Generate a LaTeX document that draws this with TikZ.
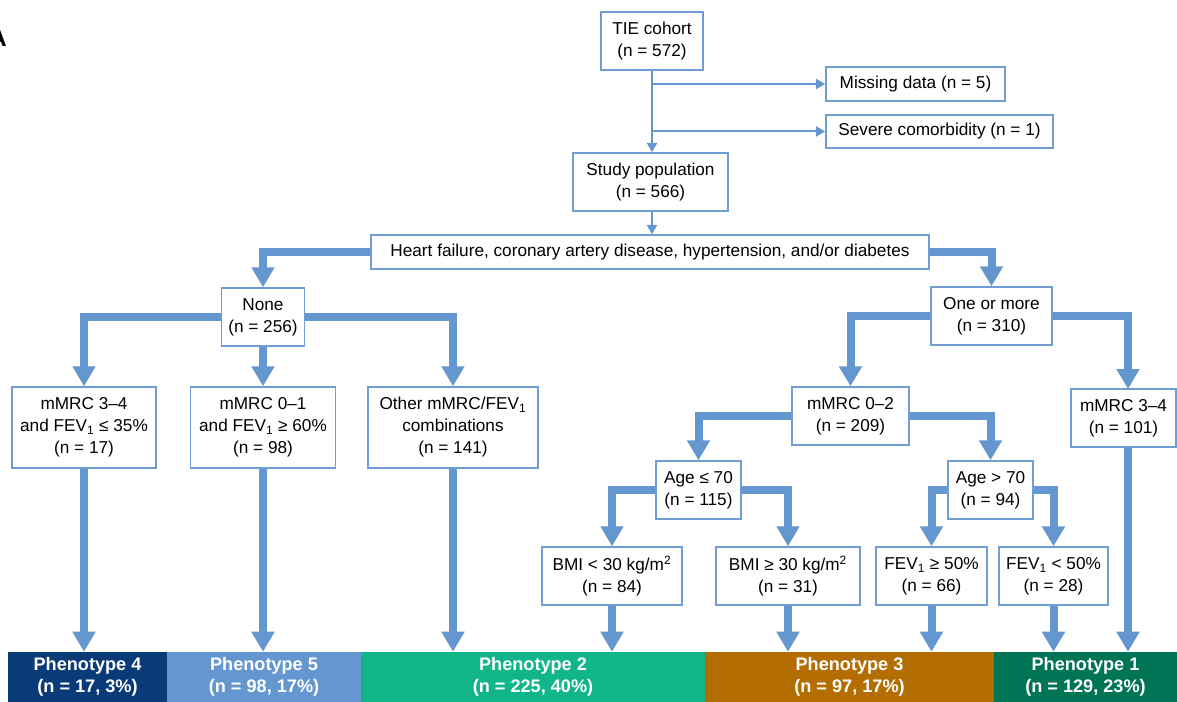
\documentclass[tikz,border=0pt]{standalone}
\usepackage{fontspec}
\setmainfont{Liberation Sans}
\usetikzlibrary{arrows.meta,backgrounds}
\definecolor{arr}{RGB}{100,150,208}
\definecolor{bord}{RGB}{112,157,212}
\definecolor{pfour}{RGB}{10,58,120}
\definecolor{pfive}{RGB}{100,150,208}
\definecolor{ptwo}{RGB}{16,182,137}
\definecolor{pthree}{RGB}{179,109,0}
\definecolor{pone}{RGB}{0,117,85}
\tikzset{
  box/.style={draw=bord, line width=1.1pt, fill=white, align=center, inner sep=0pt,
    font=\fontsize{12.9}{16.5}\selectfont, text=black},
  bar/.style={fill=#1, draw=none, align=center, inner sep=0pt, minimum height=37.5pt,
    font=\fontsize{13.6}{16.8}\selectfont\bfseries, text=white},
  thk/.style={draw=arr, line width=6pt, line join=miter, -{Triangle[width=16.5pt,length=15pt]}},
  thn/.style={draw=arr, line width=1.5pt, -{Triangle[width=7.5pt,length=7pt]}}
}
\begin{document}
\begin{tikzpicture}[x=0.75pt,y=-0.75pt]
\useasboundingbox (0,0) rectangle (1177,702);
\node[anchor=base east, inner sep=0pt, font=\fontsize{18}{18}\selectfont\bfseries] (lblA) at (7,47) {A};
% boxes
\node[box, minimum width=76.5pt, minimum height=43.5pt] (tie) at (652,41) {TIE cohort\\(n = 572)};
\node[box, minimum width=134.25pt, minimum height=25.5pt] (miss) at (915.5,84) {Missing data (n = 5)};
\node[box, minimum width=170.25pt, minimum height=24.75pt] (sev) at (939.5,131.5) {Severe comorbidity (n = 1)};
\node[box, minimum width=116.25pt, minimum height=43.5pt] (study) at (650.5,182) {Study population\\(n = 566)};
\node[box, minimum width=418.5pt, minimum height=25.5pt] (hf) at (650,252) {Heart failure, coronary artery disease, hypertension, and/or diabetes};
\node[box, minimum width=62.25pt, minimum height=43.5pt] (none) at (263,317) {None\\(n = 256)};
\node[box, minimum width=90.75pt, minimum height=43.5pt] (one) at (991.5,316) {One or more\\(n = 310)};
\node[box, minimum width=108pt, minimum height=60.75pt] (m34a) at (84,427.5) {mMRC 3–4\\and FEV\textsubscript{1} ≤ 35\%\\(n = 17)};
\node[box, minimum width=108.75pt, minimum height=60.75pt] (m01) at (263,427.5) {mMRC 0–1\\and FEV\textsubscript{1} ≥ 60\%\\(n = 98)};
\node[box, minimum width=127.5pt, minimum height=60.75pt] (other) at (453,427.5) {Other mMRC/FEV\textsubscript{1}\\combinations\\(n = 141)};
\node[box, minimum width=87.75pt, minimum height=43.5pt] (m02) at (850.5,416) {mMRC 0–2\\(n = 209)};
\node[box, minimum width=78.75pt, minimum height=43.5pt] (m34b) at (1123.5,418) {mMRC 3–4\\(n = 101)};
\node[box, minimum width=63.75pt, minimum height=43.5pt] (age1) at (698.5,490) {Age ≤ 70\\(n = 115)};
\node[box, minimum width=63.75pt, minimum height=43.5pt] (age2) at (990.5,490) {Age > 70\\(n = 94)};
\node[box, minimum width=105pt, minimum height=43.5pt] (bmi1) at (612,576) {BMI < 30 kg/m\textsuperscript{2}\\(n = 84)};
\node[box, minimum width=108pt, minimum height=43.5pt] (bmi2) at (788,576) {BMI ≥ 30 kg/m\textsuperscript{2}\\(n = 31)};
\node[box, minimum width=83.25pt, minimum height=43.5pt] (fev1) at (931.5,576) {FEV\textsubscript{1} ≥ 50\%\\(n = 66)};
\node[box, minimum width=81.75pt, minimum height=43.5pt] (fev2) at (1053.5,576) {FEV\textsubscript{1} < 50\%\\(n = 28)};
% bars
\node[bar=pfour, minimum width=119.25pt] (p4) at (87.5,677) {Phenotype 4\\(n = 17, 3\%)};
\node[bar=pfive, minimum width=145.5pt] (p5) at (264,677) {Phenotype 5\\(n = 98, 17\%)};
\node[bar=ptwo, minimum width=258pt] (p2) at (533,677) {Phenotype 2\\(n = 225, 40\%)};
\node[bar=pthree, minimum width=216.75pt] (p3) at (849.5,677) {Phenotype 3\\(n = 97, 17\%)};
\node[bar=pone, minimum width=137.25pt] (p1) at (1085.5,677) {Phenotype 1\\(n = 129, 23\%)};
\coordinate (m34bt) at (1128,389);
\coordinate (m34bb) at (1128,447);
\begin{scope}[on background layer]
% thin connectors
\draw[thn] (tie.south) -- (tie.south |- study.north);
\draw[thn] (tie.south |- miss.west) -- (miss.west);
\draw[thn] (tie.south |- sev.west) -- (sev.west);
\draw[thn] (tie.south |- study.south) -- (tie.south |- hf.north);
% thick connectors
\draw[thk] (hf.west) -| (none.north);
\draw[thk] (hf.east) -| (one.north);
\draw[thk] (none.west) -| (m34a.north);
\draw[thk] (none.south) -- (none.south |- m01.north);
\draw[thk] (none.east) -| (other.north);
\draw[thk] (one.west) -| (m02.north);
\draw[thk] (one.east) -| (m34bt);
\draw[thk] (m02.west) -| (age1.north);
\draw[thk] (m02.east) -| (age2.north);
\draw[thk] (age1.west) -| (bmi1.north);
\draw[thk] (age1.east) -| (bmi2.north);
\draw[thk] (age2.west) -| (fev1.north);
\draw[thk] (age2.east) -| (fev2.north);
% down to phenotypes
\draw[thk] (m34a.south) -- (m34a.south |- p4.north);
\draw[thk] (m01.south) -- (m01.south |- p5.north);
\draw[thk] (other.south) -- (other.south |- p2.north);
\draw[thk] (bmi1.south) -- (bmi1.south |- p2.north);
\draw[thk] (bmi2.south) -- (bmi2.south |- p3.north);
\draw[thk] (fev1.south) -- (fev1.south |- p3.north);
\draw[thk] (fev2.south) -- (fev2.south |- p1.north);
\draw[thk] (m34bb) -- (m34bb |- p1.north);
\end{scope}
\end{tikzpicture}
\end{document}
